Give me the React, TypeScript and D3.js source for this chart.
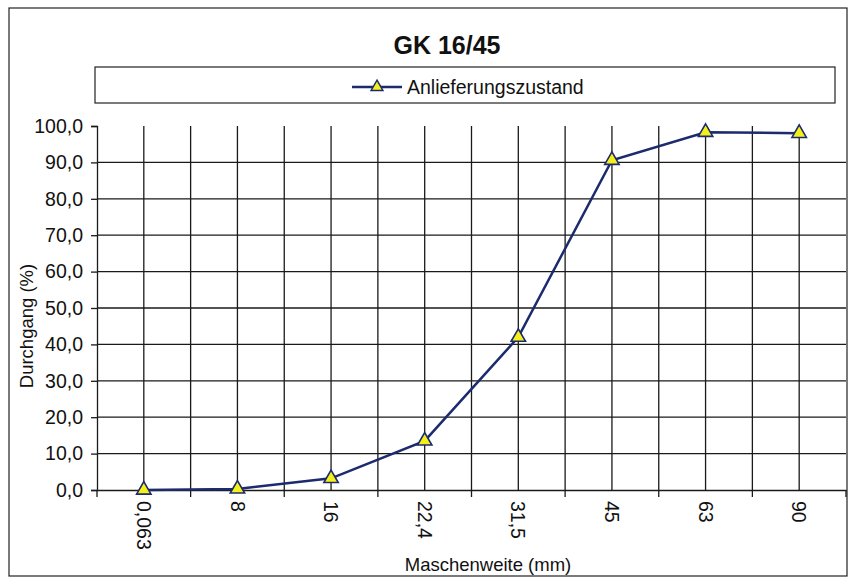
import { useRef, useEffect } from 'react';
import * as d3 from 'd3';

const sieves = ['0,063', '8', '16', '22,4', '31,5', '45', '63', '90'];
const passing = [0.0, 0.3, 3.2, 13.5, 42.0, 90.6, 98.3, 98.0];
const yTicks = [0, 10, 20, 30, 40, 50, 60, 70, 80, 90, 100];

const W = 854;
const H = 582;
const FONT = '"Liberation Sans", Arial, sans-serif';
const NAVY = '#1c2a6e';

export default function App() {
  const svgRef = useRef<SVGSVGElement>(null);

  useEffect(() => {
    if (!svgRef.current) return;
    const svg = d3.select(svgRef.current);
    svg.selectAll('*').remove();

    const left = 97;
    const right = 846;
    const top = 126;
    const bottom = 490;

    const x = d3.scaleBand<string>().domain(sieves).range([left, right]).padding(0);
    const y = d3.scaleLinear().domain([0, 100]).range([bottom, top]);
    const cx = (c: string) => (x(c) as number) + x.bandwidth() / 2;
    const fmt = (v: number) => d3.format('.1f')(v).replace('.', ',');

    // outer frame
    svg.append('rect')
      .attr('x', 9).attr('y', 8).attr('width', 838).attr('height', 568)
      .attr('fill', 'white').attr('stroke', '#222').attr('stroke-width', 1.2);

    // title
    svg.append('text')
      .attr('x', 447).attr('y', 54)
      .attr('text-anchor', 'middle')
      .attr('font-family', FONT).attr('font-weight', 'bold').attr('font-size', 25)
      .attr('fill', '#111')
      .text('GK 16/45');

    // legend
    svg.append('rect')
      .attr('x', 95).attr('y', 67).attr('width', 740).attr('height', 36)
      .attr('fill', 'white').attr('stroke', '#222').attr('stroke-width', 1.2);
    svg.append('line')
      .attr('x1', 352).attr('x2', 402).attr('y1', 87).attr('y2', 87)
      .attr('stroke', NAVY).attr('stroke-width', 2.5);
    svg.append('path')
      .attr('transform', 'translate(377,87)')
      .attr('d', d3.symbol(d3.symbolTriangle, 60)())
      .attr('fill', '#f4f01c').attr('stroke', NAVY).attr('stroke-width', 1.5);
    svg.append('text')
      .attr('x', 407).attr('y', 94)
      .attr('font-family', FONT).attr('font-size', 19.5).attr('fill', '#111')
      .text('Anlieferungszustand');

    const grid = svg.append('g').attr('stroke', '#1a1a1a').attr('stroke-width', 1.3);

    // horizontal grid
    grid.selectAll('line.h')
      .data(yTicks.filter((t) => t > 0 && t < 100))
      .join('line')
      .attr('class', 'h')
      .attr('x1', left).attr('x2', right)
      .attr('y1', (d) => y(d)).attr('y2', (d) => y(d));

    // vertical grid at category centers and interior boundaries
    const vPos = [
      ...sieves.map(cx),
      ...sieves.slice(1).map((c) => x(c) as number),
    ];
    grid.selectAll('line.v')
      .data(vPos)
      .join('line')
      .attr('class', 'v')
      .attr('x1', (d) => d).attr('x2', (d) => d)
      .attr('y1', top).attr('y2', bottom);

    // y axis
    const yAxis = svg.append('g')
      .attr('transform', `translate(${left},0)`)
      .call(d3.axisLeft(y).tickValues(yTicks).tickSize(6).tickPadding(8).tickFormat((d) => fmt(d as number)));
    yAxis.select('.domain').attr('stroke', '#1a1a1a').attr('stroke-width', 1.3);
    yAxis.selectAll('line').attr('stroke', '#1a1a1a').attr('stroke-width', 1.3);
    yAxis.selectAll('text')
      .attr('font-family', FONT).attr('font-size', 19.5).attr('fill', '#111');

    // x axis
    const xAxis = svg.append('g')
      .attr('transform', `translate(0,${bottom})`)
      .call(d3.axisBottom(x).tickSize(0).tickPadding(10));
    xAxis.select('.domain').attr('stroke', '#1a1a1a').attr('stroke-width', 1.3);
    xAxis.selectAll('text')
      .attr('font-family', FONT).attr('font-size', 19.5).attr('fill', '#111')
      .attr('transform', 'rotate(90)')
      .attr('text-anchor', 'start')
      .attr('x', 11).attr('y', 0).attr('dy', '0.35em');
    // boundary tick marks
    xAxis.selectAll('line.bt')
      .data([...sieves.map((c) => x(c) as number), right])
      .join('line')
      .attr('class', 'bt')
      .attr('x1', (d) => d).attr('x2', (d) => d)
      .attr('y1', 0).attr('y2', 7)
      .attr('stroke', '#1a1a1a').attr('stroke-width', 1.3);

    // axis titles
    svg.append('text')
      .attr('transform', 'translate(33,326) rotate(-90)')
      .attr('text-anchor', 'middle')
      .attr('font-family', FONT).attr('font-size', 18.5).attr('fill', '#111')
      .text('Durchgang (%)');
    svg.append('text')
      .attr('x', 488).attr('y', 571)
      .attr('text-anchor', 'middle')
      .attr('font-family', FONT).attr('font-size', 18.5).attr('fill', '#111')
      .text('Maschenweite (mm)');

    // series
    const pts = sieves.map((c, i) => ({ c, v: passing[i] }));
    const line = d3.line<{ c: string; v: number }>()
      .x((d) => cx(d.c))
      .y((d) => y(d.v));
    svg.append('path')
      .datum(pts)
      .attr('fill', 'none')
      .attr('stroke', NAVY)
      .attr('stroke-width', 2.5)
      .attr('d', line);
    svg.selectAll('path.mk')
      .data(pts)
      .join('path')
      .attr('class', 'mk')
      .attr('transform', (d) => `translate(${cx(d.c)},${y(d.v)})`)
      .attr('d', d3.symbol(d3.symbolTriangle, 90)())
      .attr('fill', '#f4f01c')
      .attr('stroke', NAVY)
      .attr('stroke-width', 1.6);
  }, []);

  return (
    <svg
      ref={svgRef}
      width={W}
      height={H}
      style={{ position: 'absolute', left: 0, top: 0, display: 'block', background: 'white' }}
    />
  );
}
